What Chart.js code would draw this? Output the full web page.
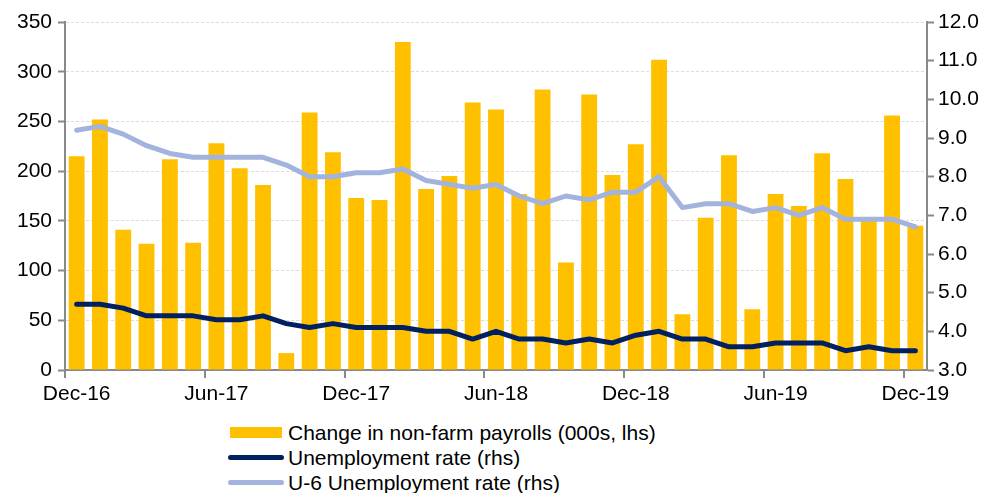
<!DOCTYPE html>
<html>
<head>
<meta charset="utf-8">
<script src="https://cdn.jsdelivr.net/npm/chart.js@4/dist/chart.umd.min.js"></script>
<style>
  body { margin: 0; background: #fff; }
  #wrap { position: relative; width: 999px; height: 493px; font-family: "Liberation Sans", Arial, sans-serif; }
  #box { position: absolute; left: 0; top: 0; width: 999px; height: 410px; }
  #legend { position: absolute; left: 228px; top: 420px; font-size: 21px; color: #000; }
  .row { height: 25px; line-height: 25px; display: flex; align-items: center; }
  .sw { width: 56px; margin-right: 4px; display: flex; justify-content: center; }
</style>
</head>
<body>
<div id="wrap">
  <div id="box"><canvas id="chart"></canvas></div>
  <div id="legend"></div>
</div>
<script>
// Data
const months = [
  "Dec-16", "Jan-17", "Feb-17", "Mar-17", "Apr-17", "May-17", "Jun-17", "Jul-17", "Aug-17", "Sep-17",
  "Oct-17", "Nov-17", "Dec-17", "Jan-18", "Feb-18", "Mar-18", "Apr-18", "May-18", "Jun-18", "Jul-18",
  "Aug-18", "Sep-18", "Oct-18", "Nov-18", "Dec-18", "Jan-19", "Feb-19", "Mar-19", "Apr-19", "May-19",
  "Jun-19", "Jul-19", "Aug-19", "Sep-19", "Oct-19", "Nov-19", "Dec-19"
];
const payrolls = [
  215, 252, 141, 127, 212, 128, 228, 203, 186, 17,
  259, 219, 173, 171, 330, 182, 195, 269, 262, 177,
  282, 108, 277, 196, 227, 312, 56, 153, 216, 61,
  177, 165, 218, 192, 152, 256, 145
];
const unemployment = [
  4.7, 4.7, 4.6, 4.4, 4.4, 4.4, 4.3, 4.3, 4.4, 4.2,
  4.1, 4.2, 4.1, 4.1, 4.1, 4.0, 4.0, 3.8, 4.0, 3.8,
  3.8, 3.7, 3.8, 3.7, 3.9, 4.0, 3.8, 3.8, 3.6, 3.6,
  3.7, 3.7, 3.7, 3.5, 3.6, 3.5, 3.5
];
const u6 = [
  9.2, 9.3, 9.1, 8.8, 8.6, 8.5, 8.5, 8.5, 8.5, 8.3,
  8.0, 8.0, 8.1, 8.1, 8.2, 7.9, 7.8, 7.7, 7.8, 7.5,
  7.3, 7.5, 7.4, 7.6, 7.6, 8.0, 7.2, 7.3, 7.3, 7.1,
  7.2, 7.0, 7.2, 6.9, 6.9, 6.9, 6.7
];
const seriesNames = [
  "Change in non-farm payrolls (000s, lhs)",
  "Unemployment rate (rhs)",
  "U-6 Unemployment rate (rhs)"
];

const gold = "#FFC000";
const navy = "#002060";
const lilac = "#A2B3DD";
const axisGrey = "#898989";

Chart.defaults.font.family = '"Liberation Sans", Arial, sans-serif';
Chart.defaults.font.size = 21;
Chart.defaults.color = "#000";

const chart = new Chart(document.getElementById("chart"), {
  data: {
    labels: months,
    datasets: [
      {
        type: "line",
        label: seriesNames[1],
        data: unemployment,
        yAxisID: "y1",
        borderColor: navy,
        borderWidth: 5,
        pointRadius: 0,
        tension: 0,
        borderJoinStyle: "round",
        borderCapStyle: "round",
        order: 1
      },
      {
        type: "line",
        label: seriesNames[2],
        data: u6,
        yAxisID: "y1",
        borderColor: lilac,
        borderWidth: 5,
        pointRadius: 0,
        tension: 0,
        borderJoinStyle: "round",
        borderCapStyle: "round",
        order: 2
      },
      {
        type: "bar",
        label: seriesNames[0],
        data: payrolls,
        yAxisID: "y",
        backgroundColor: gold,
        categoryPercentage: 1,
        barPercentage: 0.68,
        order: 3
      }
    ]
  },
  options: {
    responsive: true,
    maintainAspectRatio: false,
    animation: false,
    layout: { padding: { top: 22, left: 0, right: 0, bottom: 0 } },
    plugins: { legend: { display: false }, tooltip: { enabled: false } },
    scales: {
      x: {
        offset: true,
        grid: {
          offset: true,
          drawOnChartArea: false,
          tickLength: 8,
          lineWidth: 2,
          color: (ctx) => (ctx.index % 6 === 0 ? axisGrey : "rgba(0,0,0,0)")
        },
        border: { color: axisGrey, width: 2 },
        ticks: {
          autoSkip: false,
          maxRotation: 0,
          padding: 4,
          callback: (val, i) => (i % 6 === 0 ? months[i] : "")
        },
        afterFit: (s) => { s.height = 40; }
      },
      y: {
        position: "left",
        min: 0,
        max: 350,
        ticks: { stepSize: 50, padding: 6 },
        grid: {
          color: "#dcdcdc",
          lineWidth: 1,
          tickLength: 7,
          tickColor: axisGrey,
          tickWidth: 2,
          tickBorderDash: [0, 0]
        },
        border: { color: axisGrey, width: 2, dash: [3, 2] },
        afterFit: (s) => { s.width = 65; }
      },
      y1: {
        position: "right",
        min: 3,
        max: 12,
        ticks: { stepSize: 1, padding: 4, callback: (v) => v.toFixed(1) },
        grid: {
          drawOnChartArea: false,
          tickLength: 7,
          tickColor: axisGrey,
          tickWidth: 2
        },
        border: { color: axisGrey, width: 2 },
        afterFit: (s) => { s.width = 72; }
      }
    }
  }
});

// Legend, one entry per row, built from the datasets
const legendOrder = [2, 0, 1];
const legendEl = document.getElementById("legend");
legendOrder.forEach((di) => {
  const ds = chart.data.datasets[di];
  const row = document.createElement("div");
  row.className = "row";
  const sw = document.createElement("div");
  sw.className = "sw";
  const mark = document.createElement("div");
  if (ds.type === "bar") {
    mark.style.cssText = "width:52px;height:11px;background:" + ds.backgroundColor;
  } else {
    mark.style.cssText = "width:56px;height:5px;border-radius:3px;background:" + ds.borderColor;
  }
  sw.appendChild(mark);
  const txt = document.createElement("span");
  txt.textContent = ds.label;
  row.appendChild(sw);
  row.appendChild(txt);
  legendEl.appendChild(row);
});
</script>
</body>
</html>
